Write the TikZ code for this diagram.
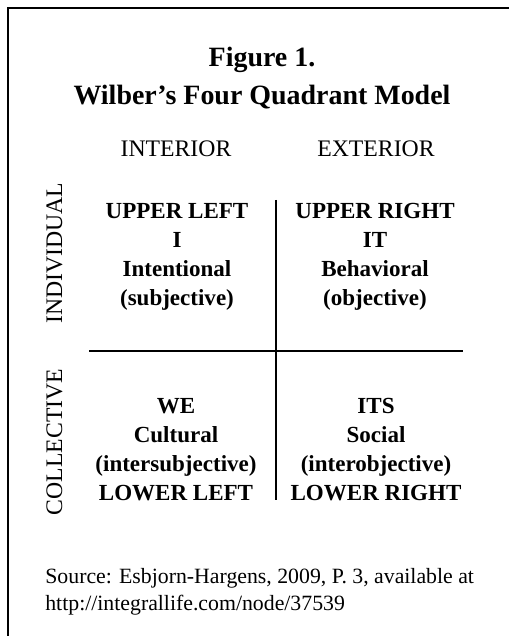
\documentclass[tikz,border=0pt]{standalone}
\usepackage{fontspec}
\setmainfont{Liberation Serif}
\usepackage{tikz}

\tikzset{
  quad/.style={align=center, inner sep=0pt, anchor=north,
    font=\bfseries\fontsize{13.1}{16.5}\selectfont},
  axis/.style={inner sep=0pt, anchor=base,
    font=\fontsize{13.5}{16}\selectfont},
}

\begin{document}
\begin{tikzpicture}
    \useasboundingbox (0,0) rectangle (10.18,12.72);

    % frame, cut at right and bottom
    \draw[line width=0.85pt] (0.16,0) -- (0.16,12.56) -- (10.18,12.56);

    \node[align=center, inner sep=0pt, anchor=north,
      font=\bfseries\fontsize{15.9}{21.6}\selectfont] (title) at (5.24,11.78)
      {Figure 1.\\Wilber’s Four Quadrant Model};

    \node[axis] (interior) at (3.52,9.58) {INTERIOR};
    \node[axis] (exterior) at (7.52,9.58) {EXTERIOR};
    \node[axis, rotate=90] (individual) at (1.24,7.66) {INDIVIDUAL};
    \node[axis, rotate=90] (collective) at (1.24,3.88) {COLLECTIVE};

    % the two axes
    \coordinate (top) at (5.52,8.72);
    \coordinate (bottom) at (5.52,2.72);
    \coordinate (left) at (1.78,5.7);
    \coordinate (right) at (9.26,5.7);
    \draw[line width=0.7pt] (top) -- (bottom);
    \draw[line width=0.7pt] (left) -- (right);

    \node[quad] (ul) at (3.54,8.66) {UPPER LEFT\\I\\Intentional\\(subjective)};
    \node[quad] (ur) at (7.50,8.66) {UPPER RIGHT\\IT\\Behavioral\\(objective)};
    \node[quad] (ll) at (3.52,4.76) {WE\\Cultural\\(intersubjective)\\LOWER LEFT};
    \node[quad] (lr) at (7.52,4.76) {ITS\\Social\\(interobjective)\\LOWER RIGHT};

    \node[align=left, inner sep=0pt, anchor=north west,
      font=\fontsize{12.4}{15.4}\selectfont] (source) at (0.9,1.36)
      {Source: Esbjorn-Hargens, 2009, P. 3, available at\\http://integrallife.com/node/37539};
\end{tikzpicture}
\end{document}
